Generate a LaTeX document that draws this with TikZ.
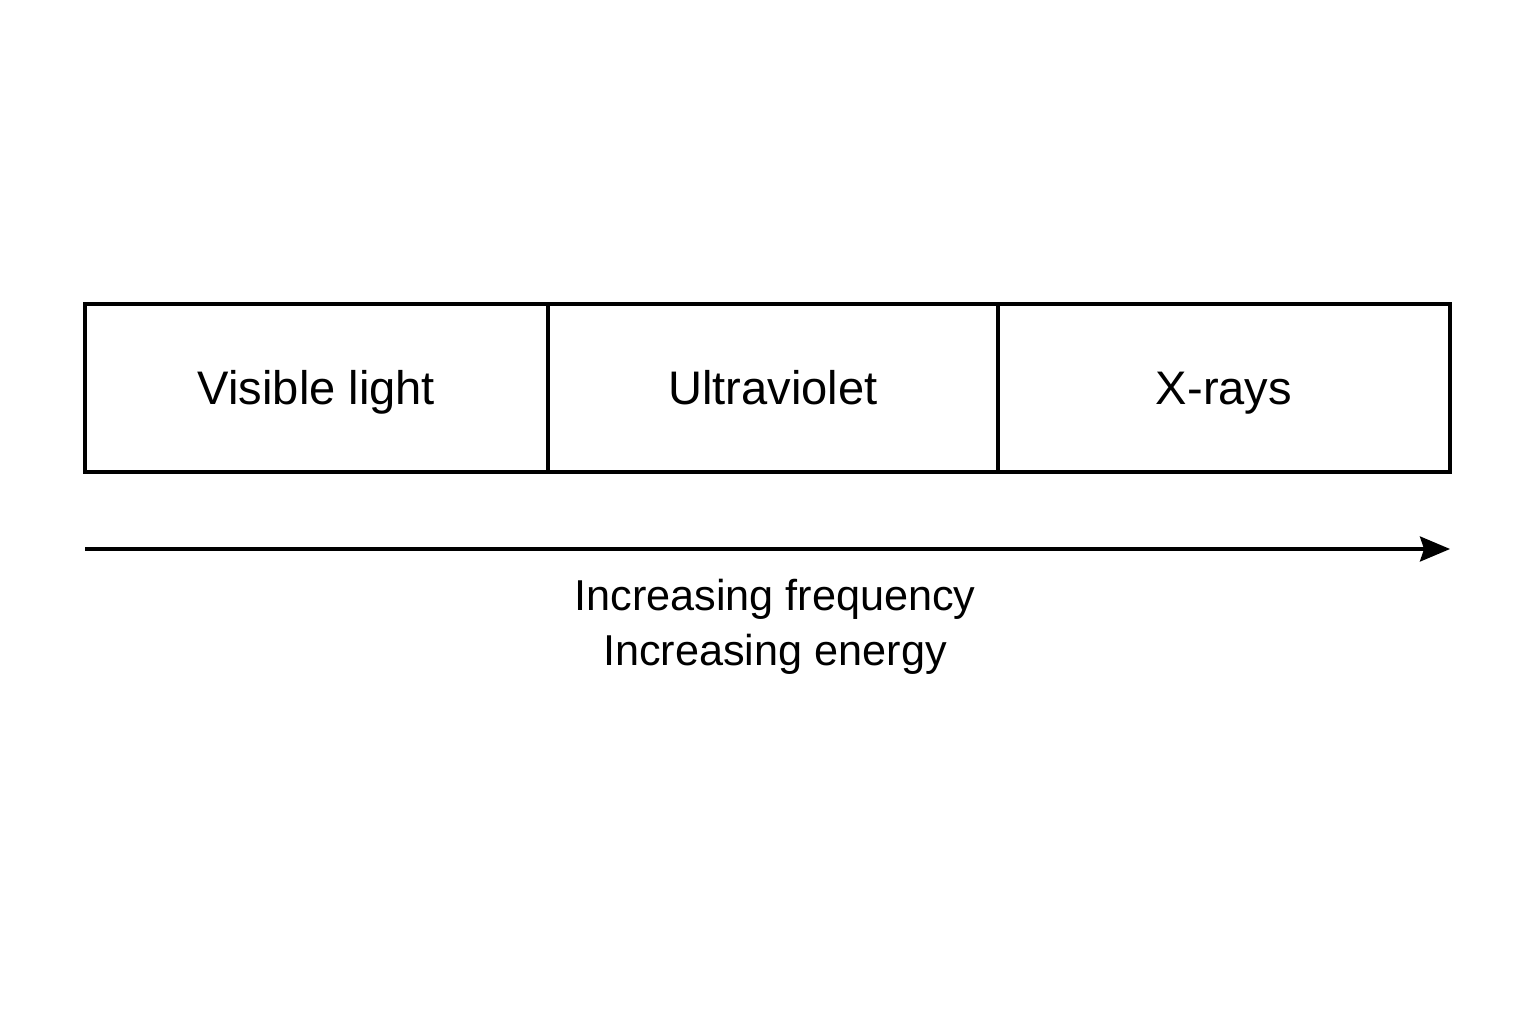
\documentclass[tikz,border=0pt]{standalone}
\usepackage{fontspec}
\setmainfont{Liberation Sans}
\usetikzlibrary{arrows.meta}
\begin{document}
\begin{tikzpicture}[
  band/.style={rectangle, draw=black, line width=0.9pt, fill=none, inner sep=0pt, outer sep=0pt, minimum height=1.68cm, text height=0.93em, text depth=0pt, font=\fontsize{13.4}{16}\selectfont},
  axis/.style={line width=0.9pt, -{Stealth[length=3mm,width=2.5mm,inset=0.4mm]}},
  caption/.style={align=center, font=\fontsize{12.3}{15.6}\selectfont}
]
\useasboundingbox (0,0) rectangle (15.36,10.24);
\node [band, minimum width=4.63cm] (vis) at (3.165,6.36) {Visible light};
\node [band, minimum width=4.50cm] (uv) at (7.73,6.36) {Ultraviolet};
\node [band, minimum width=4.52cm] (xr) at (12.24,6.36) {X-rays};
\coordinate (start) at (0.85,4.75);
\coordinate (stop) at (14.50,4.75);
\draw [axis] (start) -- (stop);
\node [caption, anchor=base] (label) at (7.75,3.59) {Increasing frequency\\Increasing energy};
\end{tikzpicture}
\end{document}
